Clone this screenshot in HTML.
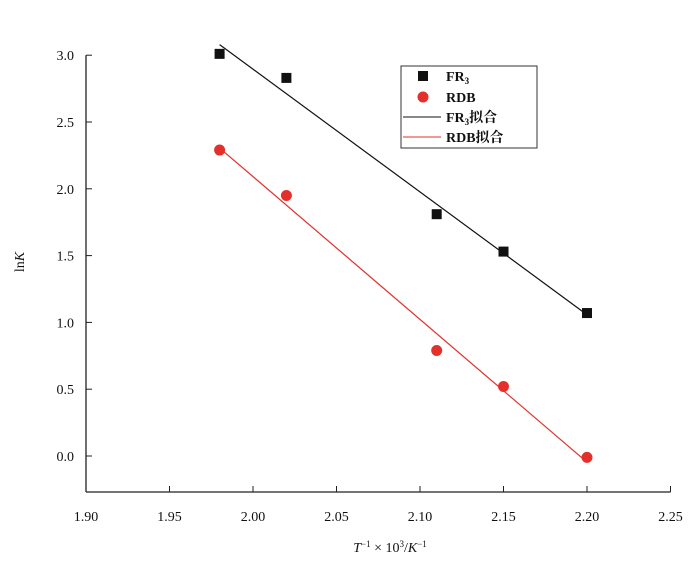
<!DOCTYPE html>
<html><head><meta charset="utf-8"><style>
body{margin:0;background:#fff}
svg text{font-family:"Liberation Serif","Noto Serif CJK SC",serif;fill:#111}
</style></head><body>
<svg id="c" width="700" height="566"></svg>
<script>
const xTicks=[1.90,1.95,2.00,2.05,2.10,2.15,2.20,2.25];
const yTicks=[0.0,0.5,1.0,1.5,2.0,2.5,3.0];
const xVals=[1.98,2.02,2.11,2.15,2.20];
const fr3=[3.01,2.83,1.81,1.53,1.07];
const rdb=[2.29,1.95,0.79,0.52,-0.01];
const NS="http://www.w3.org/2000/svg";
const svg=document.getElementById('c');
const X=v=>86+(v-1.90)/0.05*83.5;
const Y=v=>456-v/0.5*66.8;
function el(t,a,p){const e=document.createElementNS(NS,t);for(const k in a)e.setAttribute(k,a[k]);(p||svg).appendChild(e);return e;}
const axX=el('line',{x1:86,y1:492,x2:X(2.25),y2:492,stroke:'#222','stroke-width':1.3});


const axY=el('line',{x1:86,y1:492,x2:86,y2:Y(3.0),stroke:'#222','stroke-width':1.3});


xTicks.forEach(v=>{
 el('line',{x1:X(v),y1:492,x2:X(v),y2:486,stroke:'#222'});
 const t=el('text',{x:X(v),y:521,'text-anchor':'middle','font-size':14});t.textContent=v.toFixed(2);
 
 
});
yTicks.forEach(v=>{
 el('line',{x1:86,y1:Y(v),x2:92,y2:Y(v),stroke:'#222'});
 const t=el('text',{x:74,y:Y(v)+5,'text-anchor':'end','font-size':14});t.textContent=v.toFixed(1);
 
 
});
function fit(ys){const n=xVals.length;const mx=xVals.reduce((a,b)=>a+b)/n,my=ys.reduce((a,b)=>a+b)/n;let sxy=0,sxx=0;xVals.forEach((x,i)=>{sxy+=(x-mx)*(ys[i]-my);sxx+=(x-mx)**2});const b=sxy/sxx;return [b,my-b*mx];}
[[fr3,'#111','fr3'],[rdb,'#e3302b','rdb']].forEach(([ys,c,n])=>{
 const [b,a]=fit(ys);const x0=xVals[0],x1=xVals[xVals.length-1];
 const l=el('line',{x1:X(x0),y1:Y(a+b*x0),x2:X(x1),y2:Y(a+b*x1),stroke:c,'stroke-width':1.2});
 
 
});
xVals.forEach((x,i)=>{
 const r=el('rect',{x:X(x)-5,y:Y(fr3[i])-5,width:10,height:10,fill:'#111'});
 
 
 const c=el('circle',{cx:X(x),cy:Y(rdb[i]),r:5.5,fill:'#e3302b'});
 
 
});
</script>
<svg width="700" height="566" style="position:absolute;left:0;top:0">
<g>
<rect x="401" y="66" width="136" height="82" fill="#fff" stroke="#333" stroke-width="1"/>
<rect x="418" y="71" width="10" height="10" fill="#111"/>
<text x="446" y="81" font-size="14" font-weight="bold">FR<tspan font-size="9" dy="3">3</tspan></text>
<circle cx="423" cy="97" r="5.5" fill="#e3302b"/>
<text x="446" y="102" font-size="14" font-weight="bold">RDB</text>
<line x1="403" y1="117" x2="441" y2="117" stroke="#111"/>
<text x="446" y="122" font-size="14" font-weight="bold">FR<tspan font-size="9" dy="3">3</tspan><tspan dy="-3">拟合</tspan></text>
<line x1="403" y1="137" x2="441" y2="137" stroke="#e3302b"/>
<text x="446" y="142" font-size="14" font-weight="bold">RDB拟合</text>
</g>
<text x="390" y="552" text-anchor="middle" font-size="14"><tspan font-style="italic">T</tspan><tspan font-size="9" dy="-5">−1</tspan><tspan dy="5"> × 10</tspan><tspan font-size="9" dy="-5">3</tspan><tspan dy="5">/</tspan><tspan font-style="italic">K</tspan><tspan font-size="9" dy="-5">−1</tspan></text>
<text transform="translate(24,262) rotate(-90)" text-anchor="middle" font-size="14">ln<tspan font-style="italic">K</tspan></text>
</svg>
</body></html>
